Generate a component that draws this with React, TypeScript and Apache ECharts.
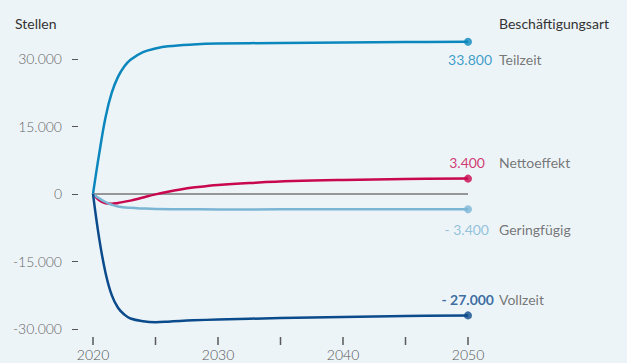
import React, { useEffect, useRef } from "react";
import * as echarts from "echarts";

const teilzeit: [number, number][] = [
  [2020, 0], [2020.5, 9000], [2021, 17000], [2021.5, 22500], [2022, 26000], [2022.5, 28300],
  [2023, 29800], [2024, 31500], [2025, 32300], [2026, 32800], [2028, 33200], [2030, 33400],
  [2035, 33550], [2040, 33650], [2045, 33750], [2050, 33800],
];
const vollzeit: [number, number][] = [
  [2020, 0], [2020.5, -10000], [2021, -17500], [2021.5, -22500], [2022, -25300], [2022.5, -26800],
  [2023, -27700], [2024, -28300], [2025, -28500], [2026, -28400], [2028, -28100], [2030, -27900],
  [2035, -27600], [2040, -27350], [2045, -27150], [2050, -27000],
];
const netto: [number, number][] = [
  [2020, 0], [2020.5, -1400], [2021, -2100], [2021.5, -2200], [2022, -2000], [2023, -1500],
  [2024, -800], [2025, -100], [2026, 500], [2027, 1000], [2028, 1400], [2030, 2000],
  [2033, 2500], [2036, 2850], [2040, 3100], [2045, 3300], [2050, 3400],
];
const geringfuegig: [number, number][] = [
  [2020, 0], [2020.5, -1000], [2021, -1800], [2021.5, -2400], [2022, -2800], [2023, -3100],
  [2024, -3250], [2025, -3350], [2027, -3400], [2030, -3450], [2040, -3420], [2050, -3400],
];

const seriesNames = ["Teilzeit", "Nettoeffekt", "Geringfügig", "Vollzeit"];
const seriesColors = ["#0b87bd", "#c8074f", "#7bb5d4", "#0b4a8b"];
const endValueLabels = ["33.800", "3.400", "- 3.400", "- 27.000"];
const xTicks = [2020, 2025, 2030, 2035, 2040, 2045, 2050];
const xTickLabels = [2020, 2030, 2040, 2050];
const yTicks = [-30000, -15000, 0, 15000, 30000];
const yTickLabels = ["-30.000", "-15.000", "0", "15.000", "30.000"];

const Y_MIN = -31800;
const Y_MAX = 34200;
const FONT = "Lato, 'Noto Sans', sans-serif";

export default function App() {
  const ref = useRef<HTMLDivElement>(null);
  useEffect(() => {
    if (!ref.current) return;
    const chart = echarts.init(ref.current, null, { renderer: "svg" });
    const allData = [teilzeit, netto, geringfuegig, vollzeit];
    const labelDy = [18, -16, 20, -16];
    const valueRight = [24, 17, 21, 26];
    const lineSeries = allData.map((d, i) => ({
      type: "line",
      name: seriesNames[i],
      data: d,
      smooth: 0.4,
      symbol: "none",
      lineStyle: { color: seriesColors[i], width: 2.5 },
      z: 3,
      ...(i === 0
        ? {
            markLine: {
              silent: true,
              symbol: "none",
              label: { show: false },
              lineStyle: { color: "#777", width: 1.5, type: "solid" },
              data: [{ yAxis: 0 }],
              z: 1,
            },
          }
        : {}),
    }));
    const endPoints = allData.map((d, i) => ({
      value: d[d.length - 1],
      itemStyle: { color: seriesColors[i] },
      label: {
        offset: [valueRight[i], labelDy[i]],
        color: seriesColors[i],
        fontWeight: i === 3 ? "bold" : "normal",
        formatter: endValueLabels[i],
      },
    }));
    const nameLabels = allData.map((d, i) => ({
      value: d[d.length - 1],
      label: {
        offset: [31, labelDy[i]],
        formatter: seriesNames[i],
      },
    }));
    chart.setOption({
      animation: false,
      backgroundColor: "#edf4f8",
      textStyle: { fontFamily: FONT },
      grid: { left: 93, right: 159, top: 40, bottom: 26, containLabel: false },
      xAxis: {
        type: "value",
        min: 2020,
        max: 2050,
        interval: 5,
        axisLine: { show: false, onZero: false },
        splitLine: { show: false },
        axisTick: { show: false },
        axisLabel: {
          margin: 10,
          color: "#555",
          fontSize: 14,
          fontWeight: 300,
          fontFamily: FONT,
          formatter: (v: number) => (xTickLabels.includes(v) ? String(v) : ""),
        },
      },
      yAxis: {
        type: "value",
        min: Y_MIN,
        max: Y_MAX,
        offset: 15,
        axisLine: { show: false, onZero: false },
        splitLine: { show: false },
        axisTick: {
          show: true,
          length: 6,
          lineStyle: { color: "#555", width: 1 },
          customValues: yTicks,
        },
        axisLabel: {
          customValues: yTicks,
          margin: 16,
          color: "#666",
          fontSize: 14,
          fontWeight: 300,
          fontFamily: FONT,
          formatter: (v: number) => yTickLabels[yTicks.indexOf(v)] ?? "",
        },
      },
      graphic: [
        {
          type: "text",
          left: 15,
          top: 16,
          style: { text: "Stellen", fill: "#333", fontSize: 14, fontFamily: FONT, fontWeight: "normal" },
        },
        {
          type: "text",
          left: 499,
          top: 16,
          style: { text: "Beschäftigungsart", fill: "#333", fontSize: 14, fontFamily: FONT, fontWeight: "normal" },
        },
      ],
      series: [
        ...lineSeries,
        {
          type: "scatter",
          data: xTicks.map((x) => [x, Y_MIN]),
          symbol: "rect",
          symbolSize: [1.5, 8],
          symbolOffset: [0, 4],
          clip: false,
          silent: true,
          itemStyle: { color: "#333" },
          z: 2,
        },
        {
          type: "scatter",
          data: endPoints,
          symbol: "circle",
          symbolSize: 8,
          z: 5,
          label: {
            show: true,
            position: "inside",
            align: "right",
            verticalAlign: "middle",
            fontSize: 14,
            fontFamily: FONT,
          },
        },
        {
          type: "scatter",
          data: nameLabels,
          symbolSize: 0,
          z: 5,
          itemStyle: { color: "transparent" },
          label: {
            show: true,
            position: "inside",
            align: "left",
            verticalAlign: "middle",
            fontSize: 14,
            fontFamily: FONT,
            color: "#555",
          },
        },
      ],
    });
    return () => chart.dispose();
  }, []);
  return (
    <div
      ref={ref}
      style={{ position: "absolute", left: 0, top: 0, width: 627, height: 363 }}
    />
  );
}
